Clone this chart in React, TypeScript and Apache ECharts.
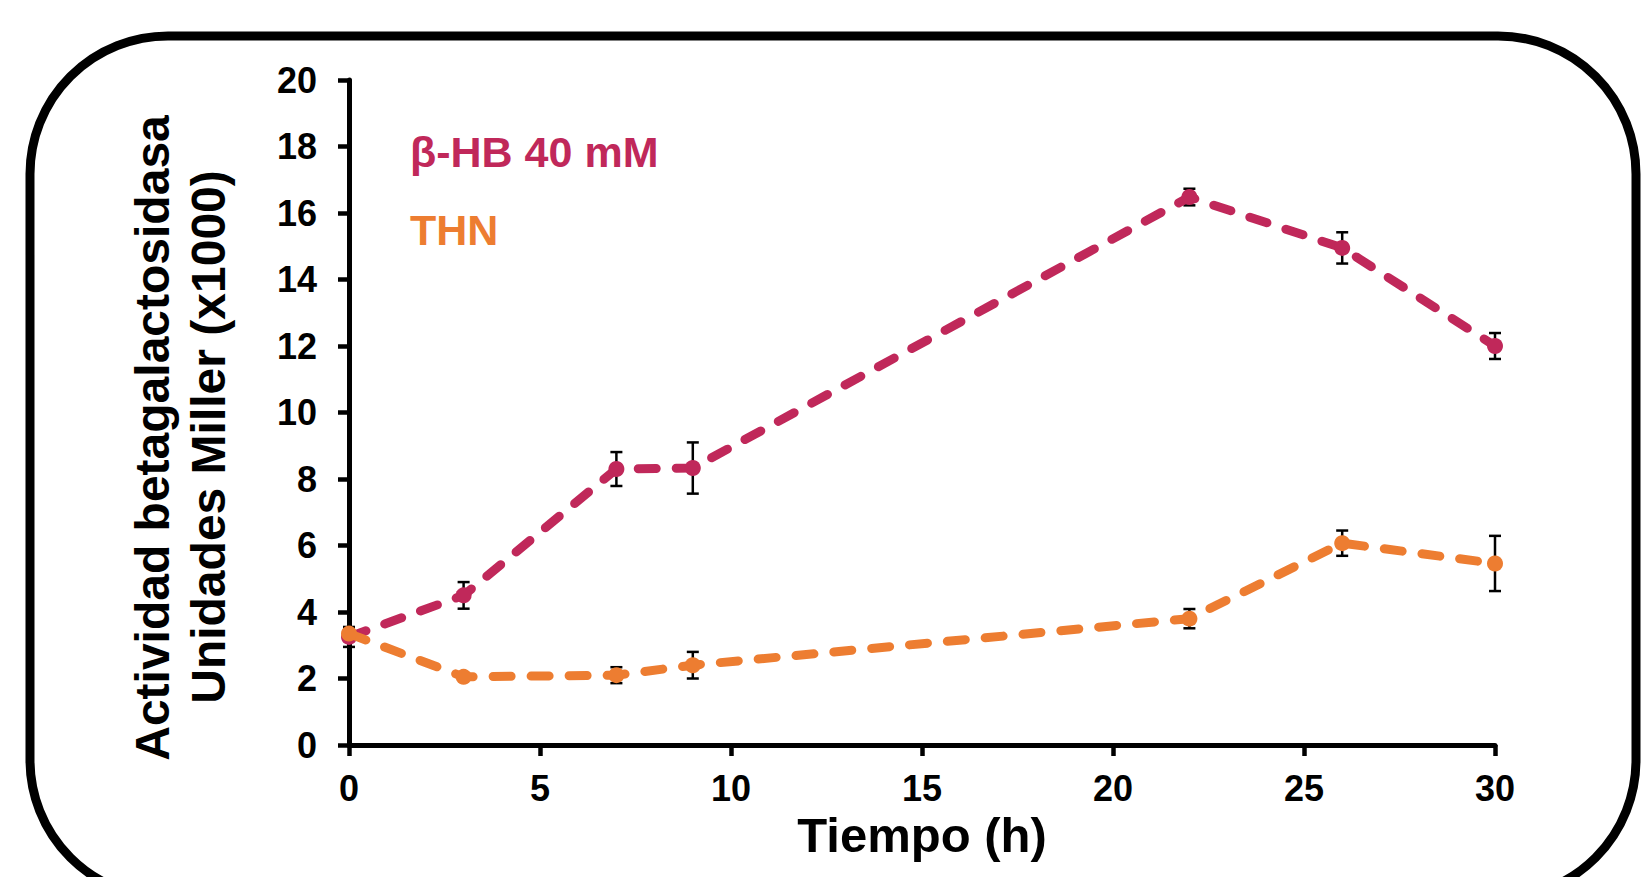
import React, { useEffect, useRef } from "react";
import * as echarts from "echarts";

const TIME_H = [0, 3, 7, 9, 22, 26, 30];
const HB_VALUES = [3.25, 4.5, 8.3, 8.33, 16.48, 14.95, 12.0];
const HB_ERRORS = [0.3, 0.4, 0.51, 0.77, 0.25, 0.47, 0.39];
const THN_VALUES = [3.35, 2.05, 2.1, 2.4, 3.8, 6.07, 5.46];
const THN_ERRORS = [0.15, 0.08, 0.24, 0.4, 0.29, 0.38, 0.83];
const SERIES_NAMES = ["β-HB 40 mM", "THN"];
const X_TITLE = "Tiempo (h)";
const Y_TITLE_LINES = ["Actividad betagalactosidasa", "Unidades Miller (x1000)"];

const MAG = "#C0285A";
const ORA = "#ED7D31";
const FONT = "'Liberation Sans', Arial, Helvetica, sans-serif";

function errorSeries(vals: number[], errs: number[]) {
  return {
    type: "custom",
    z: 1,
    silent: true,
    clip: false,
    data: TIME_H.map((t, i) => [t, vals[i] - errs[i], vals[i] + errs[i]]),
    encode: { x: 0, y: [1, 2] },
    renderItem: (params: any, api: any) => {
      const x = api.value(0);
      const lo = api.coord([x, api.value(1)]);
      const hi = api.coord([x, api.value(2)]);
      const w = 6;
      const style = { stroke: "#000", lineWidth: 2.5 };
      return {
        type: "group",
        children: [
          { type: "line", shape: { x1: lo[0], y1: lo[1], x2: hi[0], y2: hi[1] }, style },
          { type: "line", shape: { x1: lo[0] - w, y1: lo[1], x2: lo[0] + w, y2: lo[1] }, style },
          { type: "line", shape: { x1: hi[0] - w, y1: hi[1], x2: hi[0] + w, y2: hi[1] }, style },
        ],
      };
    },
  };
}

function lineSeries(name: string, vals: number[], color: string, z: number) {
  return {
    type: "line",
    name,
    z,
    data: TIME_H.map((t, i) => [t, vals[i]]),
    symbol: "circle",
    symbolSize: 16,
    itemStyle: { color },
    lineStyle: { color, width: 9, type: [18, 20], cap: "round" },
  };
}

export default function App() {
  const ref = useRef<HTMLDivElement>(null);
  useEffect(() => {
    if (!ref.current) return;
    const chart = echarts.init(ref.current, null, { renderer: "svg" });
    const axisCommon = {
      axisLine: { show: true, lineStyle: { color: "#000", width: 5 } },
      axisTick: { show: true, inside: false, length: 11, lineStyle: { color: "#000", width: 4.5 } },
      splitLine: { show: false },
    };
    chart.setOption({
      animation: false,
      backgroundColor: "#fff",
      grid: { left: 349, right: 147, top: 80, bottom: 132, containLabel: false },
      legend: {
        show: true,
        orient: "vertical",
        left: 405,
        top: 130,
        padding: 0,
        icon: "none",
        itemWidth: 0,
        itemHeight: 42,
        itemGap: 35,
        selectedMode: false,
        textStyle: { fontSize: 43, fontWeight: "bold", fontFamily: FONT, lineHeight: 42 },
        data: [
          { name: SERIES_NAMES[0], textStyle: { color: MAG } },
          { name: SERIES_NAMES[1], textStyle: { color: ORA } },
        ],
      },
      xAxis: {
        type: "value",
        min: 0,
        max: 30,
        interval: 5,
        ...axisCommon,
        axisLabel: { color: "#000", fontSize: 36, fontWeight: "bold", fontFamily: FONT, margin: 25 },
        name: X_TITLE,
        nameLocation: "middle",
        nameGap: 52,
        nameTextStyle: { color: "#000", fontSize: 49, fontWeight: "bold", fontFamily: FONT },
      },
      yAxis: {
        type: "value",
        min: 0,
        max: 20,
        interval: 2,
        ...axisCommon,
        axisLabel: { color: "#000", fontSize: 36, fontWeight: "bold", fontFamily: FONT, margin: 32 },
      },
      graphic: [
        {
          type: "rect",
          shape: { x: 30, y: 36, width: 1606, height: 862, r: 138 },
          style: { fill: "none", stroke: "#000", lineWidth: 9 },
          z: 0,
          silent: true,
        },
        {
          type: "text",
          x: 152,
          y: 438,
          rotation: Math.PI / 2,
          style: {
            text: Y_TITLE_LINES[0],
            fill: "#000",
            font: `bold 48px ${FONT}`,
            align: "center",
            verticalAlign: "middle",
          },
        },
        {
          type: "text",
          x: 208,
          y: 437,
          rotation: Math.PI / 2,
          style: {
            text: Y_TITLE_LINES[1],
            fill: "#000",
            font: `bold 48px ${FONT}`,
            align: "center",
            verticalAlign: "middle",
          },
        },
      ],
      series: [
        errorSeries(HB_VALUES, HB_ERRORS),
        errorSeries(THN_VALUES, THN_ERRORS),
        lineSeries(SERIES_NAMES[0], HB_VALUES, MAG, 3),
        lineSeries(SERIES_NAMES[1], THN_VALUES, ORA, 4),
      ],
    });
    return () => chart.dispose();
  }, []);
  return (
    <div
      ref={ref}
      style={{ position: "fixed", left: 0, top: 0, width: 1642, height: 877, background: "#fff" }}
    />
  );
}
